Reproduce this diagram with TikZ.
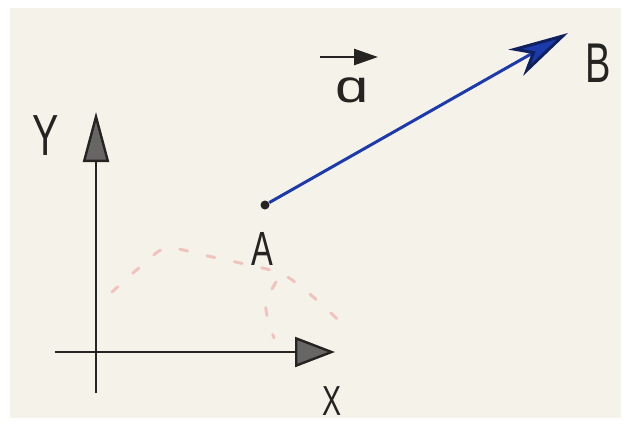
\documentclass[tikz,border=0pt]{standalone}
\usepackage{fontspec}
\setmainfont{Liberation Sans}
\usetikzlibrary{arrows.meta}
\definecolor{paper}{RGB}{245,243,233}
\definecolor{ink}{RGB}{38,36,34}
\definecolor{vecblue}{RGB}{28,58,172}
\definecolor{trace}{RGB}{240,196,188}
\newcommand{\hand}[1]{\scalebox{0.68}[1]{#1}}

\begin{document}
\begin{tikzpicture}[
    x=0.5pt, y=-0.5pt,
    lbl/.style={inner sep=0pt, text=ink},
    axis/.style={draw=ink, line width=1.4pt},
    vec/.style={draw=vecblue, line width=1.5pt,
                -{Stealth[length=30pt, width=15pt, inset=9pt,
                          fill=vecblue, color=vecblue!55!black]}},
    dot/.style={circle, fill=ink, inner sep=0pt, minimum size=4.5pt},
    tracepath/.style={draw=trace, line width=1.5pt,
                      dash pattern=on 4pt off 10pt, line cap=round}
]
    % Paper
    \useasboundingbox (0,0) rectangle (628,430);
    \fill[white] (0,0) rectangle (628,430);
    \fill[paper] (10,8) rectangle (621,418);

    % Faint traces
    \draw[tracepath] plot[smooth] coordinates
        {(112,292) (140,267) (166,248) (203,255) (240,263) (280,273)
         (305,290) (333,315) (346,328)};
    \draw[tracepath] plot[smooth] coordinates
        {(276,282) (266,302) (268,320) (274,338)};

    % Axes
    \coordinate (xleft)   at (55,352);
    \coordinate (xright)  at (335,352);
    \coordinate (ybottom) at (96,393);
    \coordinate (ytop)    at (96,112);
    \draw[axis, -{Triangle[length=25pt, width=13pt, fill=ink!70,
                           line width=1.2pt]}]
        (ybottom) -- (ytop);
    \draw[axis, -{Triangle[length=20pt, width=15pt, fill=ink!70,
                           line width=1.2pt]}]
        (xleft) -- (xright);
    \node[lbl, font=\fontsize{29}{30}\selectfont] (ylabel) at (46,136) {\hand{Y}};
    \node[lbl, font=\fontsize{21}{22}\selectfont] (xlabel) at (332,401) {\hand{X}};

    % Vector from A to B
    \node[dot] (A) at (265,205) {};
    \node[lbl, font=\fontsize{24}{25}\selectfont] (alabel) at (262,249) {\hand{A}};
    \coordinate (Btip) at (568,33);
    \node[lbl, font=\fontsize{28}{29}\selectfont] (blabel) at (598,63) {\hand{B}};
    \draw[vec] (A) -- (Btip);

    % Name of the vector
    \node[lbl, font=\fontsize{23}{24}\selectfont] (veca) at (352,90) {\scalebox{1.3}[1]{ɑ}};
    \draw[draw=ink, line width=1.3pt,
          -{Triangle[length=12pt, width=8pt, fill=ink]}]
        ([xshift=-16pt, yshift=10pt]veca.north)
        -- ([xshift=13pt, yshift=10pt]veca.north);

\end{tikzpicture}
\end{document}
